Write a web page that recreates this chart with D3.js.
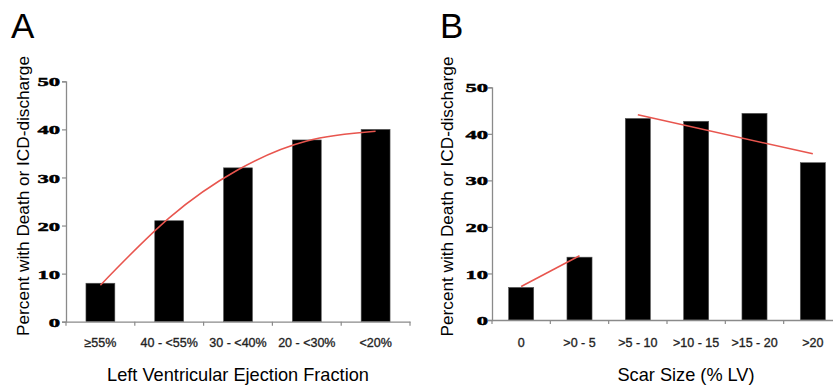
<!DOCTYPE html>
<html>
<head>
<meta charset="utf-8">
<script src="https://cdn.jsdelivr.net/npm/d3@7"></script>
<style>
  html, body { margin: 0; padding: 0; background: #fff; }
  svg { display: block; }
</style>
</head>
<body>
<svg id="chart" width="833" height="386"></svg>
<script>
// ---- Data ----
const categoriesA = ["≥55%", "40 - <55%", "30 - <40%", "20 - <30%", "<20%"];
const valuesA = [8, 21, 32, 37.8, 40];
const trendA = [7.6, 21.6, 31.6, 37.6, 39.6];

const categoriesB = ["0", ">0 - 5", ">5 - 10", ">10 - 15", ">15 - 20", ">20"];
const valuesB = [7, 13.5, 43.3, 42.7, 44.4, 33.8];
const trendB1Cats = ["0", ">0 - 5"];
const trendB1 = [7.2, 13.8];
const trendB2Cats = [">5 - 10", ">20"];
const trendB2 = [44.1, 35.7];

const yTicks = [0, 10, 20, 30, 40, 50];
const yTitle = "Percent with Death or ICD-discharge";
const xTitleA = "Left Ventricular Ejection Fraction";
const xTitleB = "Scar Size (% LV)";

const svg = d3.select("#chart");
const axisColor = "#8a8a8a";
const red = "#e8554e";

function panel(cfg) {
  const g = svg.append("g");
  const x = d3.scaleBand().domain(cfg.cats).range(cfg.xRange)
    .paddingInner(cfg.pad).paddingOuter(cfg.pad / 2);
  const y = d3.scaleLinear().domain([0, 50]).range(cfg.yRange);

  // bars
  g.selectAll("rect.bar").data(cfg.vals).join("rect")
    .attr("class", "bar")
    .attr("x", (d, i) => x(cfg.cats[i]))
    .attr("width", x.bandwidth())
    .attr("y", d => y(d))
    .attr("height", d => y(0) - y(d))
    .attr("fill", "#000")
    .attr("stroke", "#555")
    .attr("stroke-width", 0.6);

  // y axis
  const yAxis = d3.axisLeft(y).tickValues(yTicks).tickSize(4).tickFormat(d3.format("d"));
  const ya = g.append("g").attr("transform", `translate(${cfg.xRange[0]},0)`).call(yAxis);
  ya.select(".domain").attr("stroke", axisColor).attr("stroke-width", 1.3);
  ya.selectAll(".tick line").attr("stroke", axisColor).attr("stroke-width", 1.2);
  ya.selectAll(".tick text")
    .attr("x", cfg.tickLabelRight - cfg.xRange[0])
    .attr("dy", "0.34em")
    .attr("font-family", "'Liberation Serif', 'Times New Roman', serif")
    .attr("font-weight", "bold")
    .attr("font-size", "13.5px")
    .attr("fill", "#000")
    .attr("stroke", "#000")
    .attr("stroke-width", 0.5)
    .attr("textLength", d => String(d).length * 11.3)
    .attr("lengthAdjust", "spacingAndGlyphs");

  // x axis
  const xAxis = d3.axisBottom(x).tickSize(0).tickFormat(() => "");
  const xa = g.append("g").attr("transform", `translate(0,${y(0)})`).call(xAxis);
  xa.select(".domain").attr("stroke", axisColor).attr("stroke-width", 1.3);
  // boundary ticks between categories
  const step = x.step();
  const bounds = d3.range(cfg.cats.length + 1).map(i => cfg.xRange[0] + i * step);
  xa.selectAll("line.bt").data(bounds).join("line")
    .attr("class", "bt")
    .attr("x1", d => d).attr("x2", d => d)
    .attr("y1", 0).attr("y2", 4)
    .attr("stroke", axisColor).attr("stroke-width", 1.2);

  // category labels
  g.selectAll("text.cat").data(cfg.cats).join("text")
    .attr("class", "cat")
    .attr("x", d => x(d) + x.bandwidth() / 2)
    .attr("y", 347)
    .attr("text-anchor", "middle")
    .attr("font-family", "'Liberation Sans', Arial, sans-serif")
    .attr("font-size", "12.5px")
    .attr("fill", "#111")
    .attr("stroke", "#333")
    .attr("stroke-width", 0.35)
    .text(d => d);

  // trend lines
  const line = d3.line()
    .x(d => x(d.c) + x.bandwidth() / 2)
    .y(d => y(d.v))
    .curve(cfg.curve || d3.curveLinear);
  cfg.trends.forEach(t => {
    g.append("path")
      .datum(t.cats.map((c, i) => ({ c, v: t.vals[i] })))
      .attr("d", line)
      .attr("fill", "none")
      .attr("stroke", red)
      .attr("stroke-width", 1.5);
  });

  // y title
  g.append("text")
    .attr("transform", `translate(${cfg.yTitleX},${cfg.yTitleY}) rotate(-90)`)
    .attr("text-anchor", "middle")
    .attr("font-family", "'Liberation Sans', Arial, sans-serif")
    .attr("font-size", "17.2px")
    .attr("fill", "#000")
    .text(yTitle);

  // x title
  g.append("text")
    .attr("x", cfg.xTitleX)
    .attr("y", 381)
    .attr("text-anchor", "middle")
    .attr("font-family", "'Liberation Sans', Arial, sans-serif")
    .attr("font-size", "18.2px")
    .attr("fill", "#000")
    .text(cfg.xTitle);

  // panel letter
  g.append("text")
    .attr("x", cfg.letterX)
    .attr("y", 38)
    .attr("font-family", "'Liberation Sans', Arial, sans-serif")
    .attr("font-size", "35px")
    .attr("fill", "#000")
    .text(cfg.letter);
}

panel({
  cats: categoriesA, vals: valuesA, pad: 0.58,
  xRange: [66, 410], yRange: [321.7, 81.3],
  tickLabelRight: 60,
  trends: [{ cats: categoriesA, vals: trendA }],
  curve: d3.curveNatural,
  yTitleX: 29, yTitleY: 196,
  xTitle: xTitleA, xTitleX: 238,
  letter: "A", letterX: 11
});

panel({
  cats: categoriesB, vals: valuesB, pad: 0.57,
  xRange: [492, 842], yRange: [320, 87.3],
  tickLabelRight: 488,
  trends: [{ cats: trendB1Cats, vals: trendB1 }, { cats: trendB2Cats, vals: trendB2 }],
  yTitleX: 453, yTitleY: 196.5,
  xTitle: xTitleB, xTitleX: 686,
  letter: "B", letterX: 440
});
</script>
</body>
</html>
